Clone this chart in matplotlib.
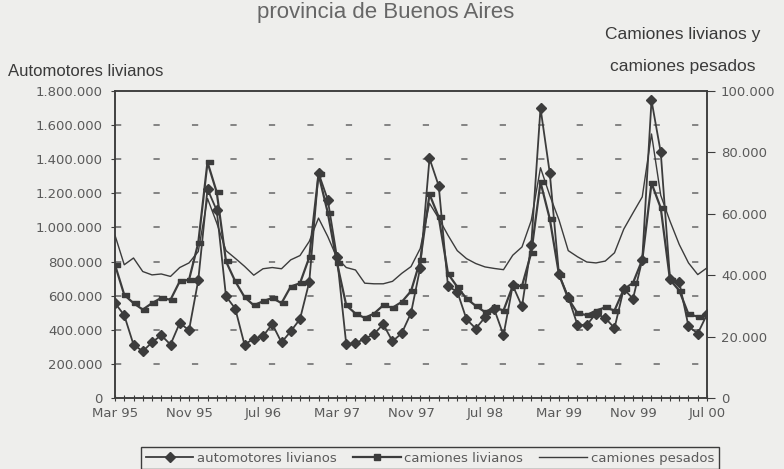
import numpy as np
import matplotlib
matplotlib.use("Agg")
import matplotlib.pyplot as plt
from matplotlib.ticker import FuncFormatter, MultipleLocator
from matplotlib.lines import Line2D

plt.rcParams['lines.scale_dashes'] = False

# meses: marzo 1995 (0) a julio 2000 (64)
meses = np.arange(65)
etiquetas = ["Mar 95", "Nov 95", "Jul 96", "Mar 97", "Nov 97",
             "Jul 98", "Mar 99", "Nov 99", "Jul 00"]

# automotores livianos (eje izquierdo, unidades)
autos = [557, 485, 313, 274, 326, 368, 313, 440, 397, 690, 1225, 1100, 596,
         524, 313, 348, 362, 434, 326, 391, 463, 680, 1320, 1163, 825, 315,
         322, 347, 375, 433, 332, 380, 498, 765, 1405, 1243, 654, 624, 462,
         407, 473, 520, 369, 660, 537, 898, 1700, 1320, 725, 592, 428, 428,
         495, 469, 410, 640, 582, 810, 1745, 1440, 700, 680, 420, 378, 490]
autos = [v * 1000 for v in autos]

# camiones livianos (eje derecho)
livianos = [43.4, 33.6, 30.9, 28.8, 30.9, 32.6, 32.0, 38.0, 38.5, 50.5, 76.8,
            67.0, 44.5, 38.0, 32.9, 30.2, 31.5, 32.6, 30.9, 36.3, 37.4, 45.8,
            72.9, 60.4, 44.0, 30.2, 27.5, 26.1, 27.5, 30.2, 29.4, 31.3, 34.8,
            44.8, 66.4, 58.9, 40.5, 36.2, 32.4, 30.0, 28.0, 29.5, 28.5, 36.5,
            36.5, 47.3, 70.3, 58.4, 40.2, 32.4, 27.6, 27.0, 28.5, 29.5, 28.5,
            35.4, 37.5, 45.0, 70.0, 61.9, 38.5, 35.0, 27.3, 26.5, 27.0]
livianos = [v * 1000 for v in livianos]

# camiones pesados (eje derecho)
pesados = [53.0, 43.4, 45.6, 41.2, 40.1, 40.4, 39.6, 42.5, 44.0, 47.7, 65.0,
           57.0, 48.0, 45.5, 42.9, 40.0, 42.1, 42.5, 42.1, 45.0, 46.4, 51.0,
           58.6, 52.6, 45.6, 42.5, 41.7, 37.4, 37.2, 37.2, 38.0, 40.6, 42.8,
           48.7, 63.4, 58.5, 53.0, 48.0, 45.4, 43.8, 42.7, 42.2, 41.8, 46.5,
           49.2, 57.8, 75.0, 66.0, 58.0, 48.0, 46.0, 44.3, 44.0, 44.6, 47.3,
           55.0, 60.3, 65.5, 86.0, 66.0, 57.6, 50.0, 44.0, 40.2, 42.4]
pesados = [v * 1000 for v in pesados]

fondo = '#eeeeec'
linea = '#3c3c3c'
texto = '#5a5a5a'

# marcador rectangular desplazado (como en el original escaneado)
rect = [(-2, -2), (6, -2), (6, 2), (-2, 2), (-2, -2)]

def miles(v, pos):
    return f"{int(v):,}".replace(",", ".")

fig = plt.figure(figsize=(7.84, 4.69), dpi=100, facecolor=fondo)
ax = fig.add_axes([115 / 784, 1 - 398 / 469, 592 / 784, 307 / 469])
ax.set_facecolor(fondo)
ax2 = ax.twinx()

# lineas de grilla punteadas
for v in range(200000, 1800000, 200000):
    ax.axhline(v, color='#666666', lw=1.1, dashes=(4.5, 23.2), zorder=1)

ax.plot(meses, autos, color=linea, lw=1.3, marker='D', ms=5, zorder=3)
ax2.plot(meses, livianos, color=linea, lw=1.6, marker=rect, ms=7, zorder=3)
ax2.plot(meses, pesados, color=linea, lw=1.0, zorder=2)

ax.set_xlim(0, 64)
ax.set_ylim(0, 1800000)
ax2.set_ylim(0, 100000)

ax.set_xticks(range(0, 65, 8))
ax.set_xticklabels(etiquetas)
ax.xaxis.set_minor_locator(MultipleLocator(1))
ax.tick_params(axis='x', which='both', direction='inout', length=5,
               width=0.8, color=linea, labelsize=9.5, labelcolor=texto, pad=4)

ax.set_yticks(range(0, 1800001, 200000))
ax.yaxis.set_major_formatter(FuncFormatter(miles))
ax.tick_params(axis='y', direction='out', length=3, width=0.8, color=linea,
               labelsize=9.5, labelcolor=texto, pad=6)

ax2.set_yticks(range(0, 100001, 20000))
ax2.yaxis.set_major_formatter(FuncFormatter(miles))
ax2.tick_params(axis='y', direction='out', length=6, width=0.8, color=linea,
                labelsize=9.5, labelcolor=texto, pad=4)

for a in (ax, ax2):
    for s in a.spines.values():
        s.set_color(linea)
        s.set_linewidth(1.1)

fig.text(0.492, 1 - 18 / 469, "provincia de Buenos Aires", ha='center',
         va='baseline', fontsize=16, color='#666666', family='Liberation Sans')
fig.text(8 / 784, 1 - 72 / 469, "Automotores livianos", ha='left', va='center',
         fontsize=12, color='#3a3a3a', family='Liberation Sans')
fig.text(683 / 784, 1 - 35 / 469, "Camiones livianos y", ha='center',
         va='center', fontsize=12.5, color='#3a3a3a', family='Liberation Sans')
fig.text(683 / 784, 1 - 67 / 469, "camiones pesados", ha='center',
         va='center', fontsize=12.5, color='#3a3a3a', family='Liberation Sans')

handles = [Line2D([], [], color=linea, lw=1.3, marker='D', ms=5),
           Line2D([], [], color=linea, lw=1.6, marker='s', ms=4),
           Line2D([], [], color=linea, lw=1.0)]
nombres = ["automotores livianos", "camiones livianos", "camiones pesados"]
fig.legend(handles, nombres, loc='center', ncol=3,
           bbox_to_anchor=(430 / 784, 1 - 458 / 469), frameon=True,
           fancybox=False, edgecolor=linea, facecolor=fondo, framealpha=1,
           fontsize=9.5, labelcolor=texto, handlelength=3.6, numpoints=1,
           columnspacing=1.2, handletextpad=0.3, borderpad=0.35)

fig.savefig("out.png", dpi=100, facecolor=fondo)
